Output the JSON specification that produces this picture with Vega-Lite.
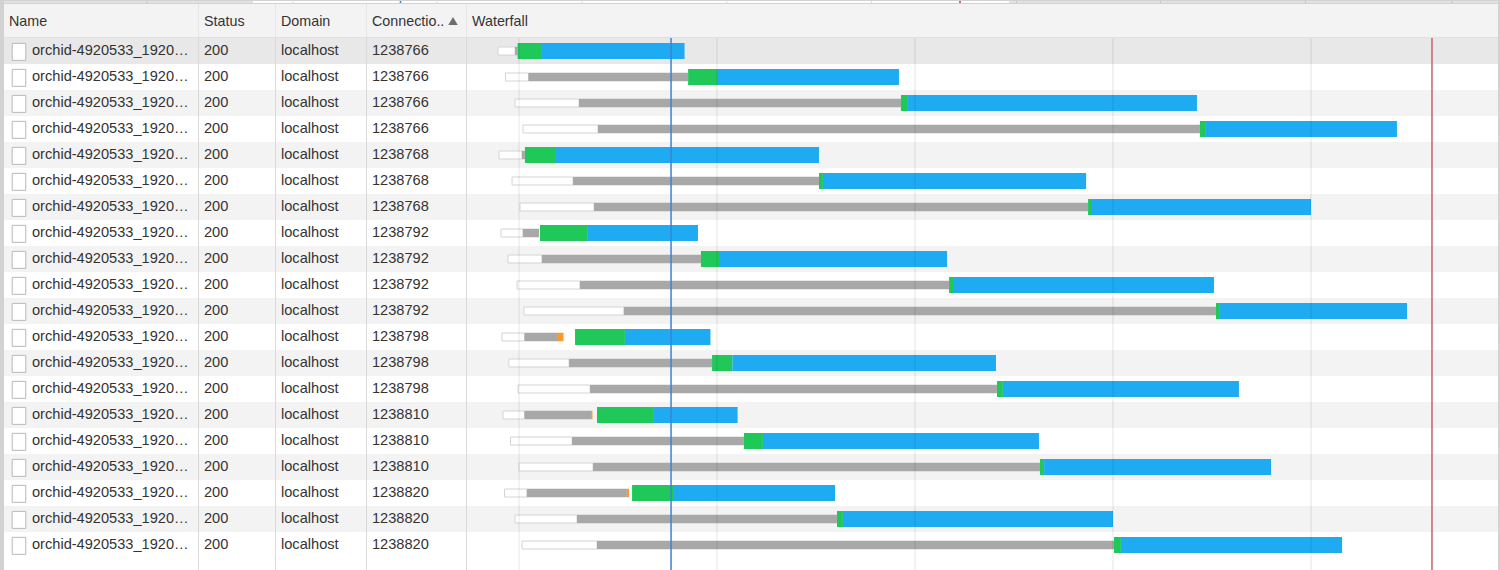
{
  "$schema": "https://vega.github.io/schema/vega-lite/v6.json",
  "background": "#d2d2d2",
  "padding": {"left": 3, "top": 0, "right": 2, "bottom": 0},
  "spacing": 1,
  "bounds": "flush",
  "resolve": {"scale": {"color": "independent"}},
  "config": {
    "view": {"stroke": null},
    "text": {"font": "Liberation Sans", "fontSize": 14.6, "color": "#333333", "align": "left", "baseline": "middle"}
  },
  "datasets": {
    "table": [
      {"row": 0, "shade": "selected", "name": "orchid-4920533_1920…", "status": "200", "domain": "localhost", "connection": "1238766"},
      {"row": 1, "shade": "odd", "name": "orchid-4920533_1920…", "status": "200", "domain": "localhost", "connection": "1238766"},
      {"row": 2, "shade": "even", "name": "orchid-4920533_1920…", "status": "200", "domain": "localhost", "connection": "1238766"},
      {"row": 3, "shade": "odd", "name": "orchid-4920533_1920…", "status": "200", "domain": "localhost", "connection": "1238766"},
      {"row": 4, "shade": "even", "name": "orchid-4920533_1920…", "status": "200", "domain": "localhost", "connection": "1238768"},
      {"row": 5, "shade": "odd", "name": "orchid-4920533_1920…", "status": "200", "domain": "localhost", "connection": "1238768"},
      {"row": 6, "shade": "even", "name": "orchid-4920533_1920…", "status": "200", "domain": "localhost", "connection": "1238768"},
      {"row": 7, "shade": "odd", "name": "orchid-4920533_1920…", "status": "200", "domain": "localhost", "connection": "1238792"},
      {"row": 8, "shade": "even", "name": "orchid-4920533_1920…", "status": "200", "domain": "localhost", "connection": "1238792"},
      {"row": 9, "shade": "odd", "name": "orchid-4920533_1920…", "status": "200", "domain": "localhost", "connection": "1238792"},
      {"row": 10, "shade": "even", "name": "orchid-4920533_1920…", "status": "200", "domain": "localhost", "connection": "1238792"},
      {"row": 11, "shade": "odd", "name": "orchid-4920533_1920…", "status": "200", "domain": "localhost", "connection": "1238798"},
      {"row": 12, "shade": "even", "name": "orchid-4920533_1920…", "status": "200", "domain": "localhost", "connection": "1238798"},
      {"row": 13, "shade": "odd", "name": "orchid-4920533_1920…", "status": "200", "domain": "localhost", "connection": "1238798"},
      {"row": 14, "shade": "even", "name": "orchid-4920533_1920…", "status": "200", "domain": "localhost", "connection": "1238810"},
      {"row": 15, "shade": "odd", "name": "orchid-4920533_1920…", "status": "200", "domain": "localhost", "connection": "1238810"},
      {"row": 16, "shade": "even", "name": "orchid-4920533_1920…", "status": "200", "domain": "localhost", "connection": "1238810"},
      {"row": 17, "shade": "odd", "name": "orchid-4920533_1920…", "status": "200", "domain": "localhost", "connection": "1238820"},
      {"row": 18, "shade": "even", "name": "orchid-4920533_1920…", "status": "200", "domain": "localhost", "connection": "1238820"},
      {"row": 19, "shade": "odd", "name": "orchid-4920533_1920…", "status": "200", "domain": "localhost", "connection": "1238820"}
    ],
    "segments": [
      {"row": 0, "phase": "queueing", "start": -10.6, "end": -2.0},
      {"row": 0, "phase": "stalled", "start": -2.0, "end": -0.7},
      {"row": 0, "phase": "waiting", "start": -0.7, "end": 11.6},
      {"row": 0, "phase": "download", "start": 11.6, "end": 83.6},
      {"row": 1, "phase": "queueing", "start": -6.8, "end": 4.8},
      {"row": 1, "phase": "stalled", "start": 4.8, "end": 85.4},
      {"row": 1, "phase": "waiting", "start": 85.4, "end": 100.0},
      {"row": 1, "phase": "download", "start": 100.0, "end": 191.9},
      {"row": 2, "phase": "queueing", "start": -2.0, "end": 30.3},
      {"row": 2, "phase": "stalled", "start": 30.3, "end": 192.9},
      {"row": 2, "phase": "waiting", "start": 192.9, "end": 196.0},
      {"row": 2, "phase": "download", "start": 196.0, "end": 342.4},
      {"row": 3, "phase": "queueing", "start": 2.0, "end": 39.9},
      {"row": 3, "phase": "stalled", "start": 39.9, "end": 343.9},
      {"row": 3, "phase": "waiting", "start": 343.9, "end": 346.5},
      {"row": 3, "phase": "download", "start": 346.5, "end": 443.4},
      {"row": 4, "phase": "queueing", "start": -10.1, "end": 1.5},
      {"row": 4, "phase": "stalled", "start": 1.5, "end": 3.0},
      {"row": 4, "phase": "waiting", "start": 3.0, "end": 18.2},
      {"row": 4, "phase": "download", "start": 18.2, "end": 151.5},
      {"row": 5, "phase": "queueing", "start": -3.5, "end": 27.3},
      {"row": 5, "phase": "stalled", "start": 27.3, "end": 151.5},
      {"row": 5, "phase": "waiting", "start": 151.5, "end": 153.5},
      {"row": 5, "phase": "download", "start": 153.5, "end": 286.4},
      {"row": 6, "phase": "queueing", "start": 0.5, "end": 37.9},
      {"row": 6, "phase": "stalled", "start": 37.9, "end": 287.4},
      {"row": 6, "phase": "waiting", "start": 287.4, "end": 289.4},
      {"row": 6, "phase": "download", "start": 289.4, "end": 400.0},
      {"row": 7, "phase": "queueing", "start": -9.1, "end": 2.0},
      {"row": 7, "phase": "stalled", "start": 2.0, "end": 10.1},
      {"row": 7, "phase": "waiting", "start": 10.6, "end": 34.8},
      {"row": 7, "phase": "download", "start": 34.8, "end": 90.4},
      {"row": 8, "phase": "queueing", "start": -5.6, "end": 11.6},
      {"row": 8, "phase": "stalled", "start": 11.6, "end": 91.9},
      {"row": 8, "phase": "waiting", "start": 91.9, "end": 101.0},
      {"row": 8, "phase": "download", "start": 101.0, "end": 216.2},
      {"row": 9, "phase": "queueing", "start": -1.0, "end": 30.8},
      {"row": 9, "phase": "stalled", "start": 30.8, "end": 217.2},
      {"row": 9, "phase": "waiting", "start": 217.2, "end": 219.2},
      {"row": 9, "phase": "download", "start": 219.2, "end": 351.0},
      {"row": 10, "phase": "queueing", "start": 2.5, "end": 53.0},
      {"row": 10, "phase": "stalled", "start": 53.0, "end": 352.0},
      {"row": 10, "phase": "waiting", "start": 352.0, "end": 354.0},
      {"row": 10, "phase": "download", "start": 354.0, "end": 448.5},
      {"row": 11, "phase": "queueing", "start": -8.6, "end": 2.8},
      {"row": 11, "phase": "stalled", "start": 2.8, "end": 19.2},
      {"row": 11, "phase": "connect", "start": 19.2, "end": 22.5},
      {"row": 11, "phase": "waiting", "start": 28.3, "end": 53.5},
      {"row": 11, "phase": "download", "start": 53.5, "end": 96.7},
      {"row": 12, "phase": "queueing", "start": -5.1, "end": 25.3},
      {"row": 12, "phase": "stalled", "start": 25.3, "end": 97.5},
      {"row": 12, "phase": "waiting", "start": 97.5, "end": 107.8},
      {"row": 12, "phase": "download", "start": 107.8, "end": 240.9},
      {"row": 13, "phase": "queueing", "start": -0.5, "end": 35.9},
      {"row": 13, "phase": "stalled", "start": 35.9, "end": 241.4},
      {"row": 13, "phase": "waiting", "start": 241.4, "end": 244.4},
      {"row": 13, "phase": "download", "start": 244.4, "end": 363.6},
      {"row": 14, "phase": "queueing", "start": -8.1, "end": 2.8},
      {"row": 14, "phase": "stalled", "start": 2.8, "end": 36.4},
      {"row": 14, "phase": "connect", "start": 36.4, "end": 37.1},
      {"row": 14, "phase": "waiting", "start": 39.4, "end": 67.7},
      {"row": 14, "phase": "download", "start": 67.7, "end": 110.4},
      {"row": 15, "phase": "queueing", "start": -4.3, "end": 26.8},
      {"row": 15, "phase": "stalled", "start": 26.8, "end": 113.6},
      {"row": 15, "phase": "waiting", "start": 113.6, "end": 123.2},
      {"row": 15, "phase": "download", "start": 123.2, "end": 262.6},
      {"row": 16, "phase": "queueing", "start": 0.0, "end": 37.4},
      {"row": 16, "phase": "stalled", "start": 37.4, "end": 263.1},
      {"row": 16, "phase": "waiting", "start": 263.1, "end": 265.2},
      {"row": 16, "phase": "download", "start": 265.2, "end": 379.8},
      {"row": 17, "phase": "queueing", "start": -7.3, "end": 4.0},
      {"row": 17, "phase": "stalled", "start": 4.0, "end": 54.5},
      {"row": 17, "phase": "connect", "start": 54.5, "end": 55.6},
      {"row": 17, "phase": "waiting", "start": 57.1, "end": 78.3},
      {"row": 17, "phase": "download", "start": 78.3, "end": 159.6},
      {"row": 18, "phase": "queueing", "start": -2.0, "end": 29.3},
      {"row": 18, "phase": "stalled", "start": 29.3, "end": 160.6},
      {"row": 18, "phase": "waiting", "start": 160.6, "end": 163.6},
      {"row": 18, "phase": "download", "start": 163.6, "end": 300.0},
      {"row": 19, "phase": "queueing", "start": 1.5, "end": 39.4},
      {"row": 19, "phase": "stalled", "start": 39.4, "end": 300.5},
      {"row": 19, "phase": "waiting", "start": 300.5, "end": 304.0},
      {"row": 19, "phase": "download", "start": 304.0, "end": 415.7}
    ],
    "gridlines": [{"t": 0}, {"t": 100}, {"t": 200}, {"t": 300}, {"t": 400}],
    "events": [
      {"event": "DOMContentLoaded", "t": 76.8},
      {"event": "Load", "t": 461.1}
    ],
    "overviewWindow": [{"start": -24.5, "end": 494.7}],
    "overviewTicks": [{"t": -97.3}, {"t": 3.0}, {"t": 101.9}, {"t": 201.5}, {"t": 301.0}, {"t": 400.3}, {"t": 499.9}, {"t": 598.8}, {"t": 698.4}, {"t": 799.0}]
  },
  "vconcat": [
    {
      "width": 1494, "height": 2,
      "resolve": {"scale": {"color": "independent"}},
      "layer": [
        {"data": {"values": [{"blank": 1}]}, "mark": {"type": "rect", "color": "#e2e2e2"}},
        {
          "data": {"name": "overviewWindow"},
          "mark": {"type": "rect", "color": "#ffffff"},
          "encoding": {
            "x": {"field": "start", "type": "quantitative", "axis": null, "scale": {"domain": [-195.5, 830.6], "nice": false, "zero": false}},
            "x2": {"field": "end"}
          }
        },
        {
          "data": {"name": "overviewTicks"},
          "mark": {"type": "rule", "color": "#000000", "opacity": 0.14},
          "encoding": {
            "x": {"field": "t", "type": "quantitative", "axis": null, "scale": {"domain": [-195.5, 830.6], "nice": false, "zero": false}}
          }
        },
        {
          "data": {"name": "events"},
          "mark": {"type": "rule", "strokeWidth": 1.5},
          "encoding": {
            "x": {"field": "t", "type": "quantitative", "axis": null, "scale": {"domain": [-195.5, 830.6], "nice": false, "zero": false}},
            "color": {"field": "event", "type": "nominal", "legend": null, "scale": {"domain": ["DOMContentLoaded", "Load"], "range": ["#3b82d8", "#c9303a"]}}
          }
        }
      ]
    },
    {
      "columns": 5,
      "spacing": 0,
      "bounds": "flush",
      "resolve": {"scale": {"color": "independent"}},
      "concat": [
        {
          "width": 195, "height": 34,
          "data": {"values": [{"label": "Name"}]},
          "layer": [
            {"mark": {"type": "rect", "color": "#f3f3f3"}},
            {"mark": {"type": "rule", "color": "#cccccc"}, "encoding": {"y": {"datum": 0, "scale": {"domain": [0, 1]}, "axis": null}}},
            {"mark": {"type": "rule", "color": "#d8d8d8"}, "encoding": {"x": {"datum": 1, "scale": {"domain": [0, 1]}, "axis": null}}},
            {"mark": {"type": "text", "dx": 5, "dy": 1, "fontSize": 14.3}, "encoding": {"x": {"datum": 0, "scale": {"domain": [0, 1]}, "axis": null}, "text": {"field": "label"}}}
          ]
        },
        {
          "width": 77, "height": 34,
          "data": {"values": [{"label": "Status"}]},
          "layer": [
            {"mark": {"type": "rect", "color": "#f3f3f3"}},
            {"mark": {"type": "rule", "color": "#cccccc"}, "encoding": {"y": {"datum": 0, "scale": {"domain": [0, 1]}, "axis": null}}},
            {"mark": {"type": "rule", "color": "#d8d8d8"}, "encoding": {"x": {"datum": 1, "scale": {"domain": [0, 1]}, "axis": null}}},
            {"mark": {"type": "text", "dx": 5, "dy": 1, "fontSize": 14.3}, "encoding": {"x": {"datum": 0, "scale": {"domain": [0, 1]}, "axis": null}, "text": {"field": "label"}}}
          ]
        },
        {
          "width": 91, "height": 34,
          "data": {"values": [{"label": "Domain"}]},
          "layer": [
            {"mark": {"type": "rect", "color": "#f3f3f3"}},
            {"mark": {"type": "rule", "color": "#cccccc"}, "encoding": {"y": {"datum": 0, "scale": {"domain": [0, 1]}, "axis": null}}},
            {"mark": {"type": "rule", "color": "#d8d8d8"}, "encoding": {"x": {"datum": 1, "scale": {"domain": [0, 1]}, "axis": null}}},
            {"mark": {"type": "text", "dx": 5, "dy": 1, "fontSize": 14.3}, "encoding": {"x": {"datum": 0, "scale": {"domain": [0, 1]}, "axis": null}, "text": {"field": "label"}}}
          ]
        },
        {
          "width": 100, "height": 34,
          "data": {"values": [{"label": "Connectio.."}]},
          "layer": [
            {"mark": {"type": "rect", "color": "#f3f3f3"}},
            {"mark": {"type": "rule", "color": "#cccccc"}, "encoding": {"y": {"datum": 0, "scale": {"domain": [0, 1]}, "axis": null}}},
            {"mark": {"type": "rule", "color": "#d8d8d8"}, "encoding": {"x": {"datum": 1, "scale": {"domain": [0, 1]}, "axis": null}}},
            {"mark": {"type": "text", "dx": 5, "dy": 1, "fontSize": 14.3}, "encoding": {"x": {"datum": 0, "scale": {"domain": [0, 1]}, "axis": null}, "text": {"field": "label"}}},
            {"mark": {"type": "point", "shape": "triangle-up", "filled": true, "color": "#6e6e6e", "opacity": 1, "size": 90}, "encoding": {"x": {"datum": 0.86, "scale": {"domain": [0, 1]}, "axis": null}}}
          ]
        },
        {
          "width": 1031, "height": 34,
          "data": {"values": [{"label": "Waterfall"}]},
          "layer": [
            {"mark": {"type": "rect", "color": "#f3f3f3"}},
            {"mark": {"type": "rule", "color": "#cccccc"}, "encoding": {"y": {"datum": 0, "scale": {"domain": [0, 1]}, "axis": null}}},
            {"mark": {"type": "text", "dx": 5, "dy": 1, "fontSize": 14.3}, "encoding": {"x": {"datum": 0, "scale": {"domain": [0, 1]}, "axis": null}, "text": {"field": "label"}}}
          ]
        },
        {
          "width": 195, "height": 532,
          "data": {"name": "table"},
          "layer": [
            {"data": {"values": [{"blank": 1}]}, "mark": {"type": "rect", "color": "#ffffff"}},
            {
              "mark": {"type": "rect"},
              "encoding": {
                "y": {"field": "row", "type": "ordinal", "axis": null, "scale": {"range": [0, 520]}},
                "color": {"field": "shade", "type": "nominal", "legend": null, "scale": {"domain": ["selected", "odd", "even"], "range": ["#e8e8e8", "#ffffff", "#f3f3f3"]}}
              }
            },
            {
              "mark": {"type": "point", "shape": "M-0.8,-0.9H0.8V1.1H-0.8Z", "filled": true, "fill": "#ffffff", "stroke": "#b8b8b8", "strokeWidth": 1, "opacity": 1, "size": 289},
              "encoding": {
                "x": {"datum": 0.0769, "scale": {"domain": [0, 1]}, "axis": null},
                "y": {"field": "row", "type": "ordinal", "axis": null, "scale": {"range": [0, 520]}}
              }
            },
            {
              "mark": {"type": "text", "dx": 28},
              "encoding": {
                "x": {"datum": 0, "scale": {"domain": [0, 1]}, "axis": null},
                "y": {"field": "row", "type": "ordinal", "axis": null, "scale": {"range": [0, 520]}},
                "text": {"field": "name"}
              }
            },
            {"mark": {"type": "rule", "color": "#d8d8d8"}, "encoding": {"x": {"datum": 1, "scale": {"domain": [0, 1]}, "axis": null}}}
          ]
        },
        {
          "width": 77, "height": 532,
          "data": {"name": "table"},
          "layer": [
            {"data": {"values": [{"blank": 1}]}, "mark": {"type": "rect", "color": "#ffffff"}},
            {
              "mark": {"type": "rect"},
              "encoding": {
                "y": {"field": "row", "type": "ordinal", "axis": null, "scale": {"range": [0, 520]}},
                "color": {"field": "shade", "type": "nominal", "legend": null, "scale": {"domain": ["selected", "odd", "even"], "range": ["#e8e8e8", "#ffffff", "#f3f3f3"]}}
              }
            },
            {
              "mark": {"type": "text", "dx": 5},
              "encoding": {
                "x": {"datum": 0, "scale": {"domain": [0, 1]}, "axis": null},
                "y": {"field": "row", "type": "ordinal", "axis": null, "scale": {"range": [0, 520]}},
                "text": {"field": "status"}
              }
            },
            {"mark": {"type": "rule", "color": "#d8d8d8"}, "encoding": {"x": {"datum": 1, "scale": {"domain": [0, 1]}, "axis": null}}}
          ]
        },
        {
          "width": 91, "height": 532,
          "data": {"name": "table"},
          "layer": [
            {"data": {"values": [{"blank": 1}]}, "mark": {"type": "rect", "color": "#ffffff"}},
            {
              "mark": {"type": "rect"},
              "encoding": {
                "y": {"field": "row", "type": "ordinal", "axis": null, "scale": {"range": [0, 520]}},
                "color": {"field": "shade", "type": "nominal", "legend": null, "scale": {"domain": ["selected", "odd", "even"], "range": ["#e8e8e8", "#ffffff", "#f3f3f3"]}}
              }
            },
            {
              "mark": {"type": "text", "dx": 5},
              "encoding": {
                "x": {"datum": 0, "scale": {"domain": [0, 1]}, "axis": null},
                "y": {"field": "row", "type": "ordinal", "axis": null, "scale": {"range": [0, 520]}},
                "text": {"field": "domain"}
              }
            },
            {"mark": {"type": "rule", "color": "#d8d8d8"}, "encoding": {"x": {"datum": 1, "scale": {"domain": [0, 1]}, "axis": null}}}
          ]
        },
        {
          "width": 100, "height": 532,
          "data": {"name": "table"},
          "layer": [
            {"data": {"values": [{"blank": 1}]}, "mark": {"type": "rect", "color": "#ffffff"}},
            {
              "mark": {"type": "rect"},
              "encoding": {
                "y": {"field": "row", "type": "ordinal", "axis": null, "scale": {"range": [0, 520]}},
                "color": {"field": "shade", "type": "nominal", "legend": null, "scale": {"domain": ["selected", "odd", "even"], "range": ["#e8e8e8", "#ffffff", "#f3f3f3"]}}
              }
            },
            {
              "mark": {"type": "text", "dx": 5},
              "encoding": {
                "x": {"datum": 0, "scale": {"domain": [0, 1]}, "axis": null},
                "y": {"field": "row", "type": "ordinal", "axis": null, "scale": {"range": [0, 520]}},
                "text": {"field": "connection"}
              }
            },
            {"mark": {"type": "rule", "color": "#d8d8d8"}, "encoding": {"x": {"datum": 1, "scale": {"domain": [0, 1]}, "axis": null}}}
          ]
        },
        {
          "width": 1031, "height": 532,
          "data": {"name": "table"},
          "resolve": {"scale": {"color": "independent"}},
          "encoding": {
            "y": {"field": "row", "type": "ordinal", "axis": null, "scale": {"range": [0, 520]}}
          },
          "layer": [
            {"data": {"values": [{"blank": 1}]}, "mark": {"type": "rect", "color": "#ffffff"}, "encoding": {"y": {"value": 0}, "y2": {"value": 532}}},
            {
              "mark": {"type": "rect"},
              "encoding": {
                "color": {"field": "shade", "type": "nominal", "legend": null, "scale": {"domain": ["selected", "odd", "even"], "range": ["#e8e8e8", "#ffffff", "#f3f3f3"]}}
              }
            },
            {
              "data": {"name": "segments"},
              "transform": [{"filter": "datum.phase == 'queueing'"}],
              "mark": {"type": "bar", "size": 8, "fill": "#ffffff", "stroke": "#d4d4d4", "strokeWidth": 1, "orient": "horizontal"},
              "encoding": {
                "x": {"field": "start", "type": "quantitative", "axis": null, "scale": {"domain": [-26.26, 494.44], "nice": false, "zero": false}},
                "x2": {"field": "end"}
              }
            },
            {
              "data": {"name": "segments"},
              "transform": [{"filter": "datum.phase == 'stalled' || datum.phase == 'connect'"}],
              "mark": {"type": "bar", "size": 8.5, "orient": "horizontal"},
              "encoding": {
                "x": {"field": "start", "type": "quantitative", "axis": null, "scale": {"domain": [-26.26, 494.44], "nice": false, "zero": false}},
                "x2": {"field": "end"},
                "color": {"field": "phase", "type": "nominal", "legend": null, "scale": {"domain": ["stalled", "connect"], "range": ["#a8a8a8", "#fb9a2c"]}}
              }
            },
            {
              "data": {"name": "segments"},
              "transform": [{"filter": "datum.phase == 'waiting' || datum.phase == 'download'"}],
              "mark": {"type": "bar", "size": 16, "orient": "horizontal"},
              "encoding": {
                "x": {"field": "start", "type": "quantitative", "axis": null, "scale": {"domain": [-26.26, 494.44], "nice": false, "zero": false}},
                "x2": {"field": "end"},
                "color": {"field": "phase", "type": "nominal", "legend": null, "scale": {"domain": ["waiting", "download"], "range": ["#20c85a", "#1eabf2"]}}
              }
            },
            {
              "data": {"name": "gridlines"},
              "mark": {"type": "rule", "color": "#000000", "opacity": 0.1},
              "encoding": {
                "x": {"field": "t", "type": "quantitative", "axis": null, "scale": {"domain": [-26.26, 494.44], "nice": false, "zero": false}},
                "y": {"value": 0},
                "y2": {"value": 532}
              }
            },
            {
              "data": {"name": "events"},
              "mark": {"type": "rule", "strokeWidth": 1.5},
              "encoding": {
                "x": {"field": "t", "type": "quantitative", "axis": null, "scale": {"domain": [-26.26, 494.44], "nice": false, "zero": false}},
                "y": {"value": 0},
                "y2": {"value": 532},
                "color": {"field": "event", "type": "nominal", "legend": null, "scale": {"domain": ["DOMContentLoaded", "Load"], "range": ["#3b82d8", "#c9606a"]}}
              }
            }
          ]
        }
      ]
    }
  ]
}
